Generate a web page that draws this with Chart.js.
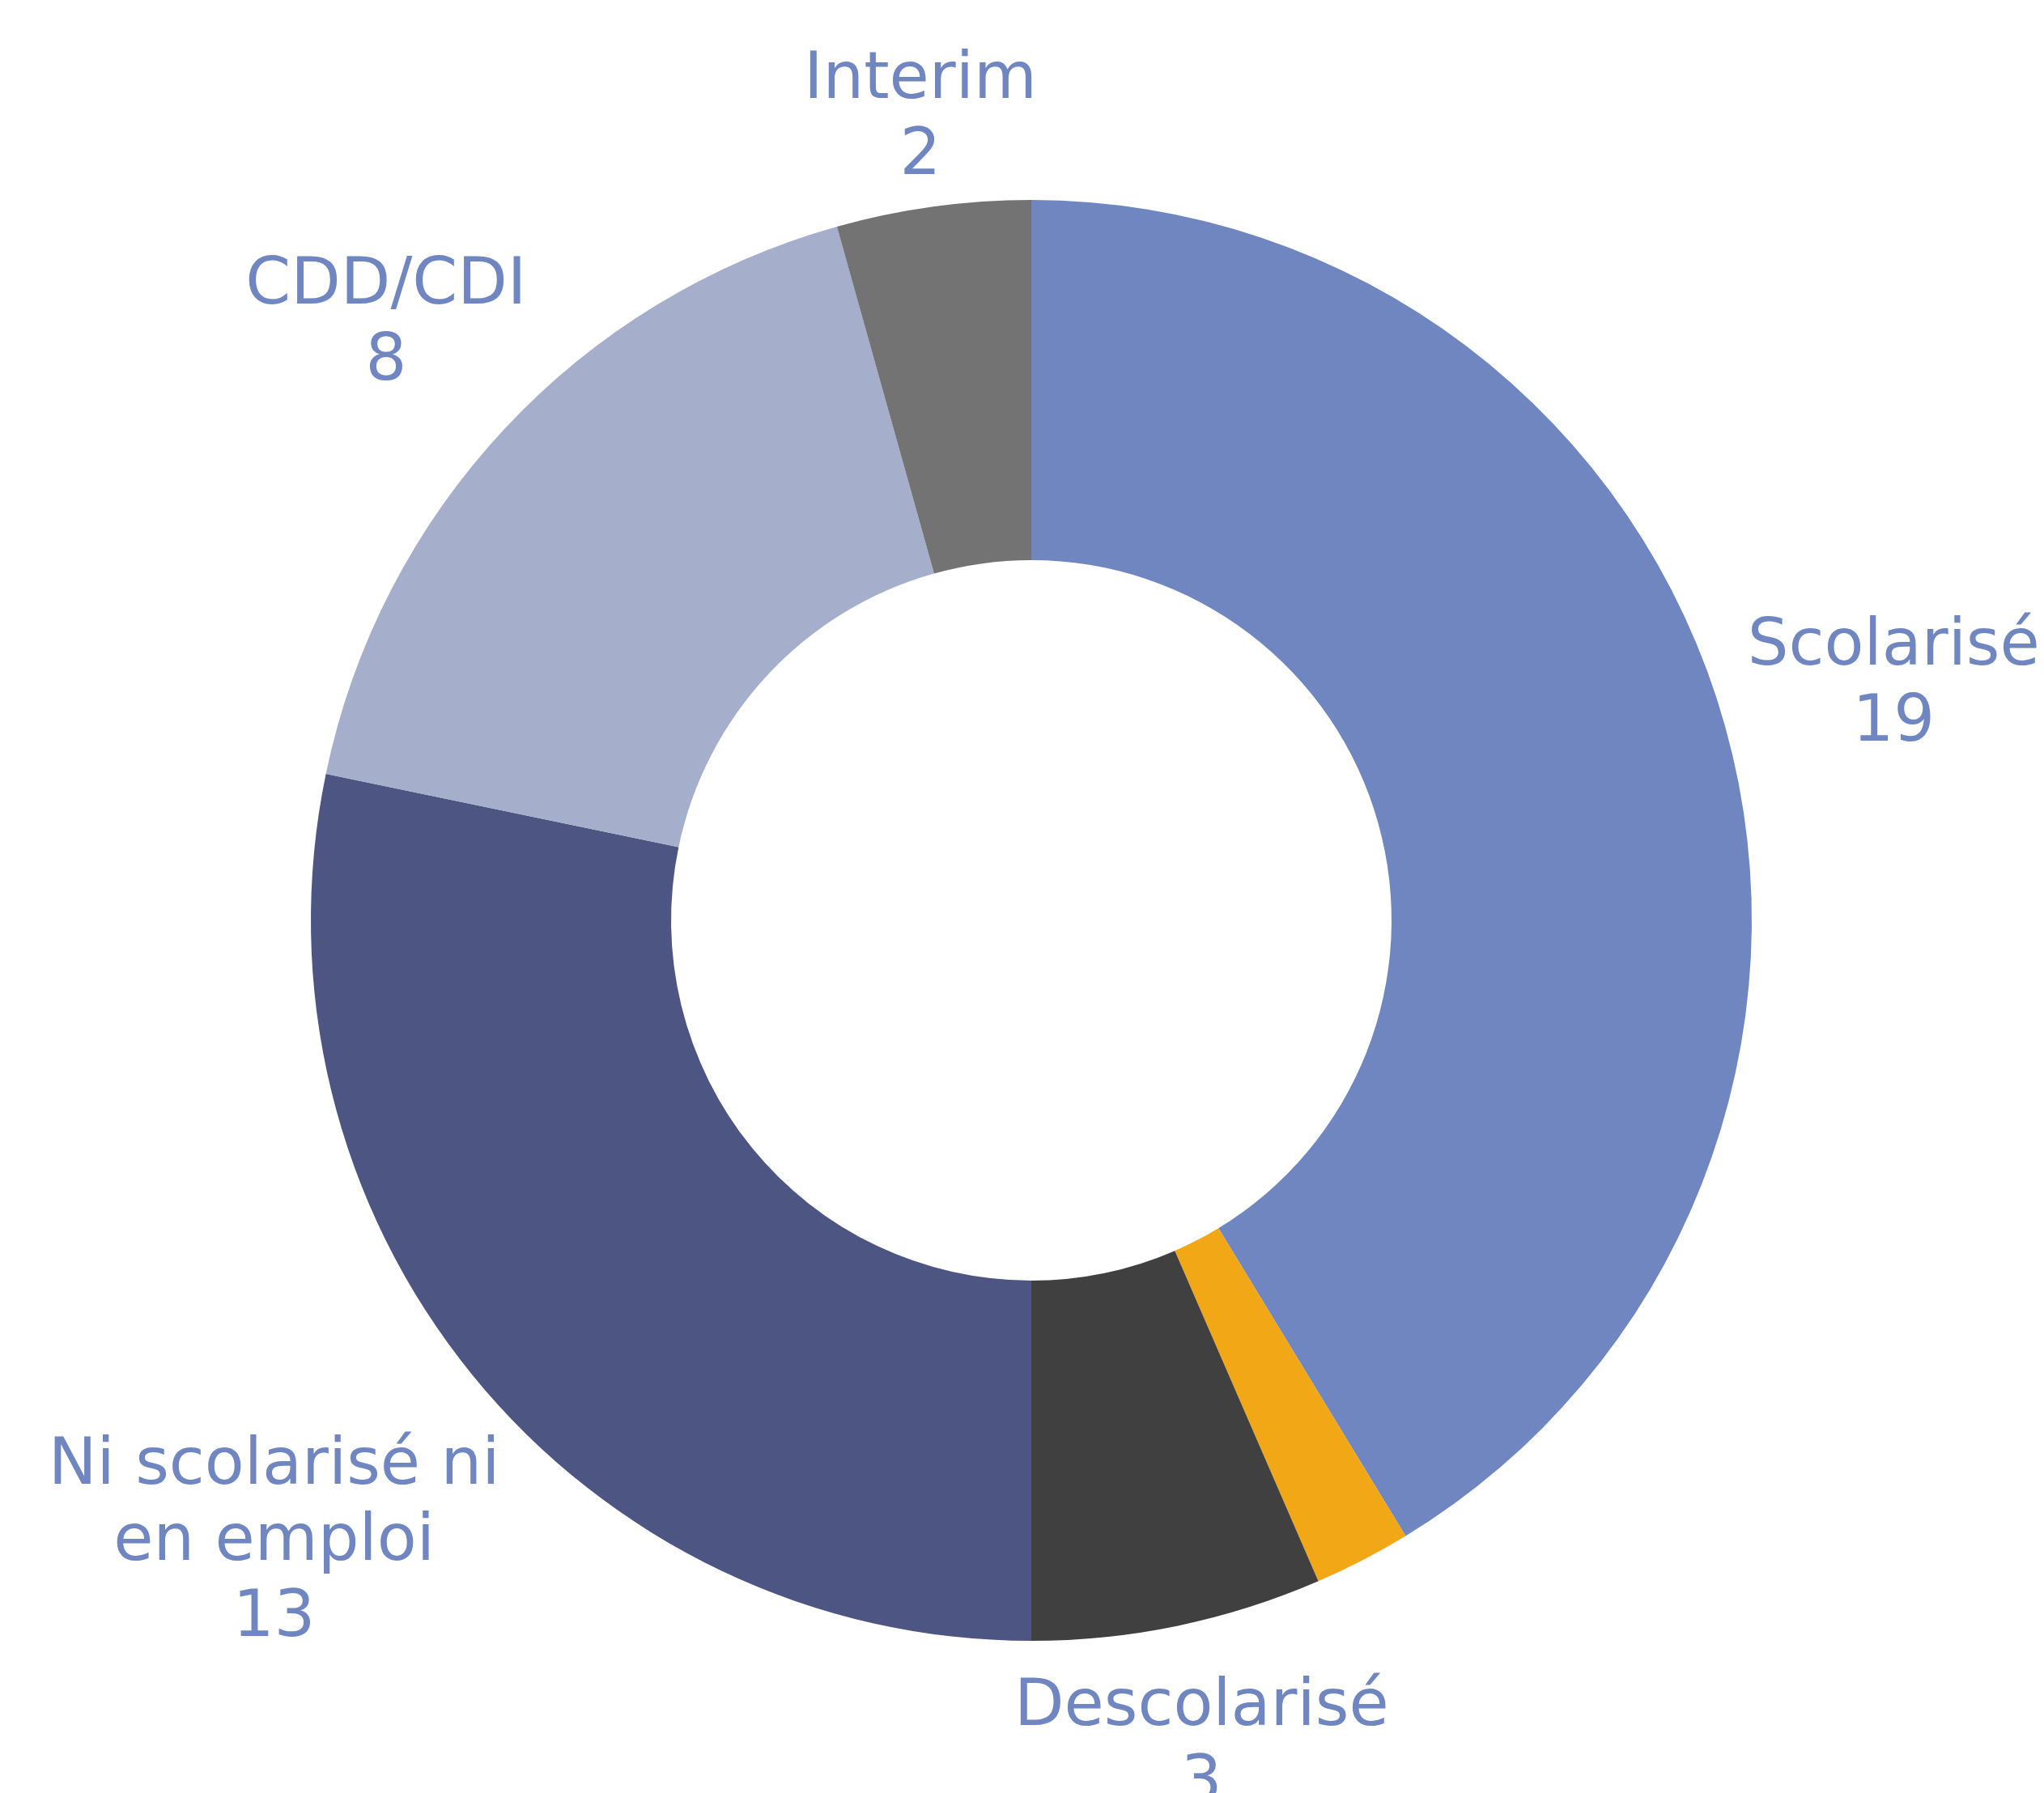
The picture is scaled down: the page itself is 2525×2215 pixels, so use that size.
<!DOCTYPE html>
<html>
<head>
<meta charset="utf-8">
<script src="https://cdn.jsdelivr.net/npm/chart.js@4/dist/chart.umd.min.js"></script>
<style>
  html, body { margin: 0; padding: 0; background: #ffffff; }
  #wrap { width: 2525px; height: 2215px; overflow: hidden; }
</style>
</head>
<body>
<div id="wrap"><canvas id="c" width="2525" height="2215"></canvas></div>
<script>
// ---- Data ----
const categories = ["Scolarisé", "", "Descolarisé", "Ni scolarisé ni en emploi", "CDD/CDI", "Interim"];
const labelLines = [["Scolarisé"], [], ["Descolarisé"], ["Ni scolarisé ni", "en emploi"], ["CDD/CDI"], ["Interim"]];
const values = [19, 1, 3, 13, 8, 2];
const sliceColors = ["#6f86c0", "#f2a816", "#404040", "#4d5582", "#a5aeca", "#737373"];

const outsideLabels = {
  id: 'outsideLabels',
  afterDatasetsDraw(chart, args, opts) {
    const ctx = chart.ctx;
    const meta = chart.getDatasetMeta(0);
    const data = chart.data.datasets[0].data;
    ctx.save();
    ctx.font = opts.font;
    ctx.fillStyle = opts.color;
    ctx.textAlign = 'center';
    ctx.textBaseline = 'alphabetic';
    meta.data.forEach((arc, i) => {
      const lines = labelLines[i];
      if (!lines || !lines.length) return;
      const all = lines.concat([String(data[i])]);
      const p = arc.getProps(['x', 'y', 'startAngle', 'endAngle', 'outerRadius'], true);
      const mid = (p.startAngle + p.endAngle) / 2;
      const cx = Math.cos(mid), cy = Math.sin(mid);
      let w = 0;
      all.forEach(t => { w = Math.max(w, ctx.measureText(t).width); });
      const h = (all.length - 1) * opts.lineHeight + opts.capHeight;
      const d = p.outerRadius + opts.gap + Math.abs(cx) * w / 2 + Math.abs(cy) * h / 2;
      const bx = p.x + cx * d;
      const by = p.y + cy * d;
      const top = by - h / 2;
      all.forEach((t, k) => {
        ctx.fillText(t, bx, top + opts.capHeight + k * opts.lineHeight);
      });
    });
    ctx.restore();
  }
};

new Chart(document.getElementById('c'), {
  type: 'doughnut',
  data: {
    labels: categories,
    datasets: [{
      data: values,
      backgroundColor: sliceColors,
      borderWidth: 0,
      hoverOffset: 0
    }]
  },
  options: {
    responsive: false,
    animation: false,
    cutout: '50%',
    layout: { padding: { left: 384, right: 361, top: 247, bottom: 188 } },
    plugins: {
      legend: { display: false },
      tooltip: { enabled: false },
      outsideLabels: {
        font: '80px "DejaVu Sans"',
        color: '#6f86c0',
        lineHeight: 94,
        capHeight: 58,
        gap: 22
      }
    }
  },
  plugins: [outsideLabels]
});
</script>
</body>
</html>
